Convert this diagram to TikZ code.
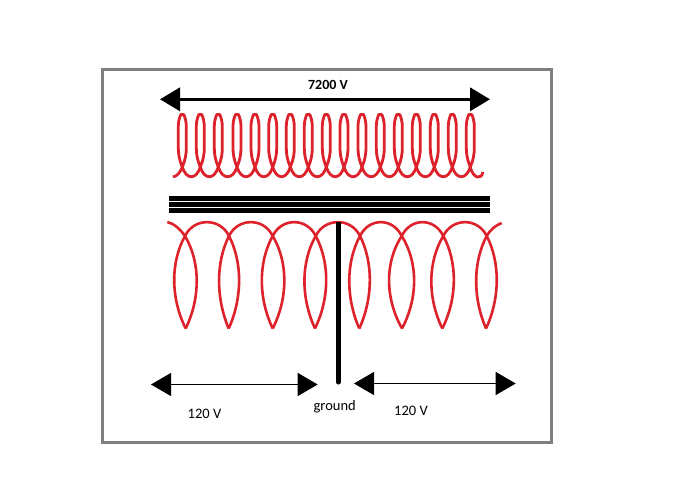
\documentclass[tikz,border=0pt]{standalone}
\usepackage{fontspec}
\setmainfont{Carlito}
\usetikzlibrary{arrows.meta}
\definecolor{coilred}{RGB}{221,34,44}
\definecolor{framegray}{RGB}{128,128,128}
\tikzset{
  frameline/.style={draw=framegray,line width=3pt},
  coil/.style={draw=coilred,line width=2.8pt,line join=round},
  coilthin/.style={draw=coilred,line width=2.6pt,line join=round},
  corebar/.style={fill=black,draw=none},
  groundline/.style={draw=black,line width=5pt,line cap=round},
  bigarrow/.style={draw=black,line width=3.5pt,{Triangle[length=20pt,width=23pt]}-{Triangle[length=20pt,width=23pt]},shorten <=0pt,shorten >=0pt},
  smallarrow/.style={draw=black,line width=1pt,{Triangle[length=20pt,width=23pt]}-{Triangle[length=20pt,width=23pt]}},
  lbl/.style={font=\fontsize{14.5}{16}\selectfont,inner sep=0pt,text=black},
  lblb/.style={font=\fontsize{14}{16}\selectfont\bfseries,inner sep=0pt,text=black}
}
\begin{document}
\begin{tikzpicture}[x=1pt,y=-1pt]
\useasboundingbox (0,0) rectangle (692,496);
\fill[white] (0,0) rectangle (692,496);
\draw[frameline] (102.5,69.5) rectangle (551.5,442);

% upper coil
\draw[coil] (173,177) .. controls (177,176) and (180,173) .. (182.3,167);
\foreach \c [remember=\c as \p (initially 182.3)] in {182.3,200.3,218.3,237,255,272.7,290.3,308.3,326.3,344,362,380.3,398.3,416.3,434.3,452.3,470.3}{
  \draw[coil] (\c,167) .. controls (\c-3,160) and (\c-4,154) .. (\c-4,148)
     -- (\c-4,126) .. controls (\c-4,121) and (\c-2.5,117) .. (\c-1.5,114.5)
     -- (\c+1.5,114.5) .. controls (\c+2.5,117) and (\c+4,121) .. (\c+4,126)
     -- (\c+4,148) .. controls (\c+4,154) and (\c+3,160) .. (\c,167);
  \ifdim \c pt>182.3pt
    \draw[coil] (\p,167) .. controls (\p+4,180) and (\c-4,180) .. (\c,167);
  \fi
}
\draw[coil] (470.3,167) .. controls (473,179) and (482,180) .. (482.8,172);

% core
\fill[corebar] (169,196) rectangle (490,201);
\fill[corebar] (169,202) rectangle (490,207);
\fill[corebar] (169,208) rectangle (490,213);

% lower coil
\foreach \x/\l/\r/\t in {185/174/197/185.7,229/219.3/239/228.7,272.7/261.7/284.7/272.7,315.7/304.3/326.3/315,360/349.3/369.7/359.3,401.7/388.3/414.7/402,443.3/431/454/442.3,486.7/476.3/496.7/486}{
  \draw[coilthin] (\x,236) .. controls (\l-3.5,262) and (\l-3.5,298) .. (\t,328.5);
  \draw[coilthin] (\x,236) .. controls (\r+3.5,262) and (\r+3.5,298) .. (\t,328.5);
}
\draw[coilthin] (167.3,222) .. controls (174,223.5) and (180,229) .. (185,236);
\foreach \a/\b in {185/229,229/272.7,272.7/315.7,315.7/360,360/401.7,401.7/443.3,443.3/486.7}{
  \draw[coilthin] (\a,236) .. controls (\a+9,217.5) and (\b-9,217.5) .. (\b,236);
}
\draw[coilthin] (486.7,236) .. controls (490,230) and (496,225) .. (501.7,223);

% ground lead
\coordinate (gtop) at (338.3,222);
\coordinate (gend) at (338.3,382);
\draw[groundline,line cap=butt] (gtop) -- (338.3,380);
\draw[groundline] (338.3,379) -- (gend);

% voltage arrows
\coordinate (a1) at (160,99.3);
\coordinate (a2) at (490,99.3);
\coordinate (b1) at (151,384.5);
\coordinate (b2) at (317.7,384.5);
\coordinate (c1) at (354,383.5);
\coordinate (c2) at (515.7,383.5);
\draw[bigarrow] (a1) -- (a2);
\draw[smallarrow] (b1) -- (b2);
\draw[smallarrow] (c1) -- (c2);

% labels
\node[lblb] (t7200) at (328,85) {7200 V};
\node[lbl] (tl) at (204.5,413.5) {120 V};
\node[lbl] (tg) at (334.7,406.5) {ground};
\node[lbl] (tr) at (411,411) {120 V};
\end{tikzpicture}
\end{document}
